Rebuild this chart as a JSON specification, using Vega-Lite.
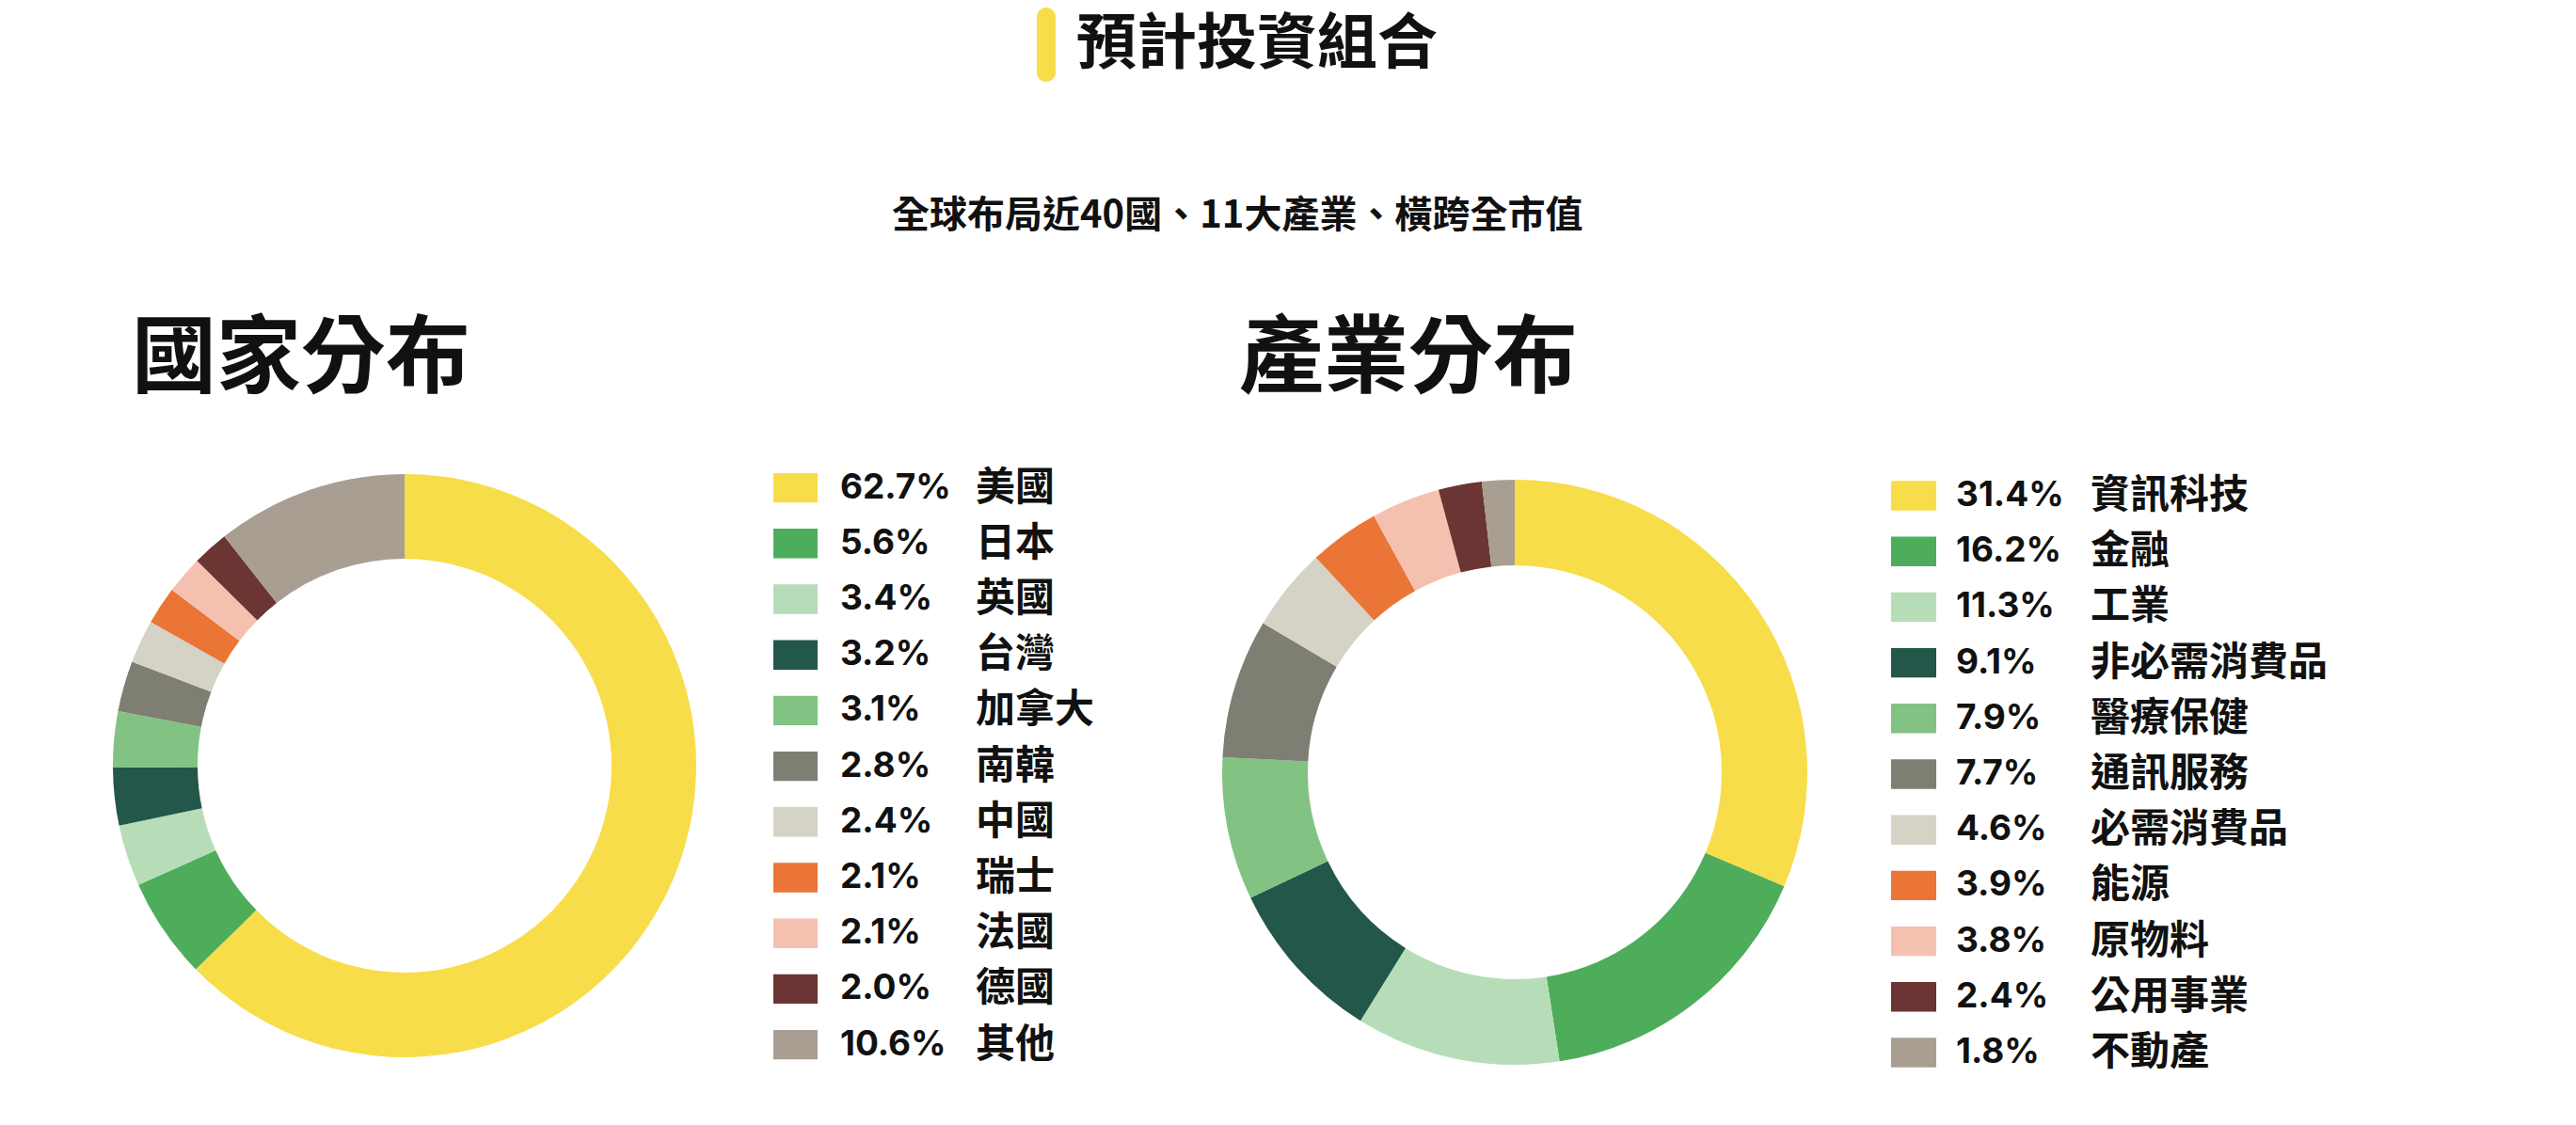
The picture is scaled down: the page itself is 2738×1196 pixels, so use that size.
{
  "$schema": "https://vega.github.io/schema/vega-lite/v6.json",
  "background": "#ffffff",
  "padding": {"left": 120, "top": 8, "right": 0, "bottom": 0},
  "config": {
    "view": {"stroke": null},
    "font": "Noto Sans CJK TC",
    "title": {"font": "Noto Sans CJK TC", "fontWeight": "bold", "color": "#111111"}
  },
  "datasets": {
    "countries": [
      {"name": "美國", "share": 0.627},
      {"name": "日本", "share": 0.056},
      {"name": "英國", "share": 0.034},
      {"name": "台灣", "share": 0.032},
      {"name": "加拿大", "share": 0.031},
      {"name": "南韓", "share": 0.028},
      {"name": "中國", "share": 0.024},
      {"name": "瑞士", "share": 0.021},
      {"name": "法國", "share": 0.021},
      {"name": "德國", "share": 0.020},
      {"name": "其他", "share": 0.106}
    ],
    "sectors": [
      {"name": "資訊科技", "share": 0.314},
      {"name": "金融", "share": 0.162},
      {"name": "工業", "share": 0.113},
      {"name": "非必需消費品", "share": 0.091},
      {"name": "醫療保健", "share": 0.079},
      {"name": "通訊服務", "share": 0.077},
      {"name": "必需消費品", "share": 0.046},
      {"name": "能源", "share": 0.039},
      {"name": "原物料", "share": 0.038},
      {"name": "公用事業", "share": 0.024},
      {"name": "不動產", "share": 0.018}
    ],
    "heading": [{"t": "預計投資組合"}]
  },
  "vconcat": [
    {
      "spacing": 22,
      "hconcat": [
        {"width": 960, "height": 79, "data": {"values": [{"t": 0}]}, "mark": {"type": "rect", "opacity": 0}, "encoding": {}},
        {
          "width": 20, "height": 79,
          "view": {"fill": "#F8DD4A", "cornerRadius": 10, "stroke": null},
          "data": {"values": [{"t": 0}]}, "mark": {"type": "rect", "opacity": 0}, "encoding": {}
        },
        {
          "width": 440, "height": 79,
          "data": {"name": "heading"},
          "mark": {"type": "text", "align": "left", "baseline": "middle", "font": "Noto Sans CJK TC", "fontWeight": "bold", "fontSize": 64, "color": "#111111"},
          "encoding": {
            "x": {"datum": 0, "type": "quantitative", "scale": {"domain": [0, 1]}, "axis": null},
            "text": {"field": "t", "type": "nominal"}
          }
        }
      ]
    },
    {
      "title": {"text": "全球布局近40國、11大產業、橫跨全市值", "anchor": "start", "dx": 828, "fontSize": 40, "offset": 88},
      "resolve": {"scale": {"color": "independent", "theta": "independent", "y": "independent", "x": "independent"}},
      "spacing": 112,
      "hconcat": [
        {
          "title": {"text": "國家分布", "anchor": "start", "dx": 20, "fontSize": 90, "offset": 60},
          "spacing": 82,
          "hconcat": [
            {
              "width": 620, "height": 650,
              "data": {"name": "countries"},
              "transform": [{"window": [{"op": "row_number", "as": "idx"}]}],
              "mark": {"type": "arc", "outerRadius": 310, "innerRadius": 220},
              "encoding": {
                "theta": {"field": "share", "type": "quantitative", "stack": true},
                "order": {"field": "idx", "type": "quantitative"},
                "color": {"field": "name", "type": "nominal", "legend": null,
                  "scale": {"domain": ["美國","日本","英國","台灣","加拿大","南韓","中國","瑞士","法國","德國","其他"],
                            "range": ["#F8DD4A","#4EAD5B","#B6DDB8","#23574A","#82C383","#7E7E73","#D4D3C6","#EB7537","#F4C1B0","#6A3532","#A89E91"]}}
              }
            },
            {
              "spacing": 24,
              "hconcat": [
                {
                  "width": 47, "height": 651.2,
                  "data": {"name": "countries"},
                  "mark": {"type": "rect"},
                  "encoding": {
                    "y": {"field": "name", "type": "nominal", "sort": null, "axis": null, "scale": {"type": "band", "paddingInner": 0.47, "paddingOuter": 0.235}},
                    "x": {"datum": 0, "type": "quantitative", "scale": {"domain": [0, 1]}, "axis": null},
                    "x2": {"datum": 1},
                    "color": {"field": "name", "type": "nominal", "legend": null,
                      "scale": {"domain": ["美國","日本","英國","台灣","加拿大","南韓","中國","瑞士","法國","德國","其他"],
                                "range": ["#F8DD4A","#4EAD5B","#B6DDB8","#23574A","#82C383","#7E7E73","#D4D3C6","#EB7537","#F4C1B0","#6A3532","#A89E91"]}}
                  }
                },
                {
                  "width": 120, "height": 651.2,
                  "data": {"name": "countries"},
                  "mark": {"type": "text", "align": "left", "baseline": "middle", "font": "Inter", "fontWeight": "bold", "fontSize": 37, "color": "#111111"},
                  "encoding": {
                    "y": {"field": "name", "type": "nominal", "sort": null, "axis": null, "scale": {"type": "band", "paddingInner": 0.47, "paddingOuter": 0.235}},
                    "x": {"datum": 0, "type": "quantitative", "scale": {"domain": [0, 1]}, "axis": null},
                    "text": {"field": "share", "type": "quantitative", "format": ".1%"}
                  }
                },
                {
                  "width": 150, "height": 651.2,
                  "data": {"name": "countries"},
                  "mark": {"type": "text", "align": "left", "baseline": "middle", "font": "Noto Sans CJK TC", "fontWeight": "bold", "fontSize": 42, "color": "#111111"},
                  "encoding": {
                    "y": {"field": "name", "type": "nominal", "sort": null, "axis": null, "scale": {"type": "band", "paddingInner": 0.47, "paddingOuter": 0.235}},
                    "x": {"datum": 0, "type": "quantitative", "scale": {"domain": [0, 1]}, "axis": null},
                    "text": {"field": "name", "type": "nominal"}
                  }
                }
              ]
            }
          ]
        },
        {
          "title": {"text": "產業分布", "anchor": "start", "dx": 18, "fontSize": 90, "offset": 60},
          "spacing": 89,
          "hconcat": [
            {
              "width": 622, "height": 664,
              "data": {"name": "sectors"},
              "transform": [{"window": [{"op": "row_number", "as": "idx"}]}],
              "mark": {"type": "arc", "outerRadius": 311, "innerRadius": 220},
              "encoding": {
                "theta": {"field": "share", "type": "quantitative", "stack": true},
                "order": {"field": "idx", "type": "quantitative"},
                "color": {"field": "name", "type": "nominal", "legend": null,
                  "scale": {"domain": ["資訊科技","金融","工業","非必需消費品","醫療保健","通訊服務","必需消費品","能源","原物料","公用事業","不動產"],
                            "range": ["#F8DD4A","#4EAD5B","#B6DDB8","#23574A","#82C383","#7E7E73","#D4D3C6","#EB7537","#F4C1B0","#6A3532","#A89E91"]}}
              }
            },
            {
              "spacing": 21,
              "hconcat": [
                {
                  "width": 48, "height": 659.6,
                  "data": {"name": "sectors"},
                  "mark": {"type": "rect"},
                  "encoding": {
                    "y": {"field": "name", "type": "nominal", "sort": null, "axis": null, "scale": {"type": "band", "paddingInner": 0.47, "paddingOuter": 0.306, "align": 0.616}},
                    "x": {"datum": 0, "type": "quantitative", "scale": {"domain": [0, 1]}, "axis": null},
                    "x2": {"datum": 1},
                    "color": {"field": "name", "type": "nominal", "legend": null,
                      "scale": {"domain": ["資訊科技","金融","工業","非必需消費品","醫療保健","通訊服務","必需消費品","能源","原物料","公用事業","不動產"],
                                "range": ["#F8DD4A","#4EAD5B","#B6DDB8","#23574A","#82C383","#7E7E73","#D4D3C6","#EB7537","#F4C1B0","#6A3532","#A89E91"]}}
                  }
                },
                {
                  "width": 122, "height": 659.6,
                  "data": {"name": "sectors"},
                  "mark": {"type": "text", "align": "left", "baseline": "middle", "font": "Inter", "fontWeight": "bold", "fontSize": 37, "color": "#111111"},
                  "encoding": {
                    "y": {"field": "name", "type": "nominal", "sort": null, "axis": null, "scale": {"type": "band", "paddingInner": 0.47, "paddingOuter": 0.306, "align": 0.616}},
                    "x": {"datum": 0, "type": "quantitative", "scale": {"domain": [0, 1]}, "axis": null},
                    "text": {"field": "share", "type": "quantitative", "format": ".1%"}
                  }
                },
                {
                  "width": 300, "height": 659.6,
                  "data": {"name": "sectors"},
                  "mark": {"type": "text", "align": "left", "baseline": "middle", "font": "Noto Sans CJK TC", "fontWeight": "bold", "fontSize": 42, "color": "#111111"},
                  "encoding": {
                    "y": {"field": "name", "type": "nominal", "sort": null, "axis": null, "scale": {"type": "band", "paddingInner": 0.47, "paddingOuter": 0.306, "align": 0.616}},
                    "x": {"datum": 0, "type": "quantitative", "scale": {"domain": [0, 1]}, "axis": null},
                    "text": {"field": "name", "type": "nominal"}
                  }
                }
              ]
            }
          ]
        }
      ]
    }
  ],
  "spacing": 123
}
